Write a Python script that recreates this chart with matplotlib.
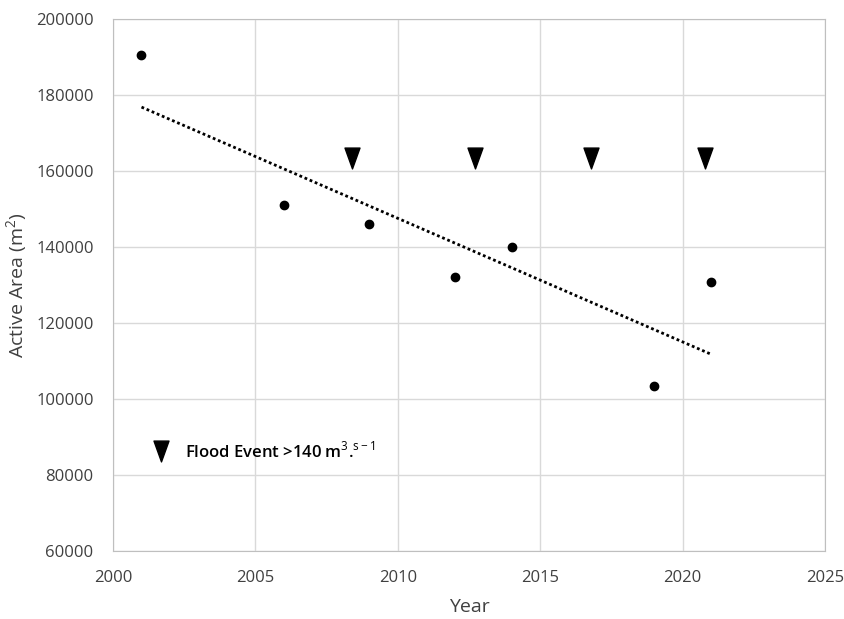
import numpy as np
import matplotlib
matplotlib.use("Agg")
import matplotlib.pyplot as plt
from matplotlib.path import Path

# Active area measurements by survey year
years = [2001, 2006, 2009, 2012, 2014, 2019, 2021]
active_area = [190500, 151000, 146000, 132000, 140000, 103500, 130800]

# Flood events exceeding 140 m3/s (marker row)
flood_years = [2008.4, 2012.7, 2016.8, 2020.8]
flood_level = [163500, 163500, 163500, 163500]

x_ticks = [2000, 2005, 2010, 2015, 2020, 2025]
y_ticks = [60000, 80000, 100000, 120000, 140000, 160000, 180000, 200000]

plt.rcParams['font.family'] = ['Open Sans', 'DejaVu Sans']
plt.rcParams['mathtext.fontset'] = 'custom'
plt.rcParams['mathtext.rm'] = 'Open Sans'

fig = plt.figure(figsize=(8.44, 6.19), dpi=100)
ax = fig.add_axes([0.1339, 0.1099, 0.8436, 0.8594])

tri = Path([(-0.36, 0.5), (0.36, 0.5), (0.0, -0.5), (-0.36, 0.5)],
           [Path.MOVETO, Path.LINETO, Path.LINETO, Path.CLOSEPOLY])

ax.plot(years, active_area, 'o', color='black', markersize=6, zorder=4)

coef = np.polyfit(years, active_area, 1)
fit_x = np.array([years[0], years[-1]])
ax.plot(fit_x, np.polyval(coef, fit_x), color='black', lw=2,
        linestyle=(0, (1, 1)), zorder=3)

ax.plot(flood_years, flood_level, linestyle='none', marker=tri,
        markersize=15, color='black', zorder=4,
        label=r'Flood Event >140 m$^{\mathrm{3}}$.$^{\mathrm{s-1}}$')

ax.set_xlim(2000, 2025)
ax.set_ylim(60000, 200000)
ax.set_xticks(x_ticks)
ax.set_yticks(y_ticks)
ax.tick_params(length=0, labelsize=12, colors='#404040')
ax.tick_params(axis='y', pad=14)
ax.tick_params(axis='x', pad=14)
ax.grid(True, color='#d9d9d9', lw=1)
ax.set_axisbelow(True)
for s in ax.spines.values():
    s.set_color('#bfbfbf')

ax.set_xlabel('Year', fontsize=14, color='#404040', labelpad=8)
ax.set_ylabel('Active Area (m$^{\\mathrm{2}}$)', fontsize=14, color='#404040', labelpad=4)

leg = ax.legend(loc='center left', bbox_to_anchor=(0.035, 0.188), frameon=False,
                fontsize=12, handletextpad=0.9, handlelength=1.0,
                prop={'size': 12, 'weight': 'semibold'})

fig.savefig('out.png', dpi=100, facecolor='white')
